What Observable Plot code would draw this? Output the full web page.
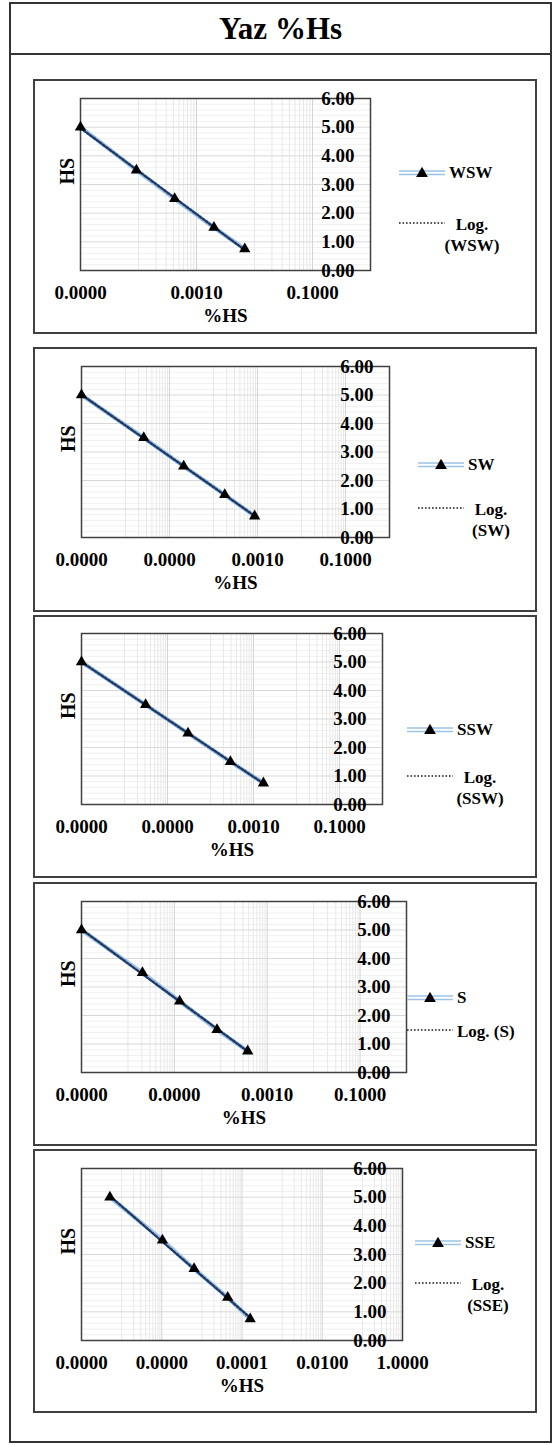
<!DOCTYPE html>
<html>
<head>
<meta charset="utf-8">
<script src="https://cdn.jsdelivr.net/npm/d3@7"></script>
<script src="https://cdn.jsdelivr.net/npm/@observablehq/plot@0.6"></script>
<style>
  body { margin:0; background:#fff; width:556px; height:1445px; position:relative; overflow:hidden;
         font-family:"Liberation Serif","Times New Roman",serif; font-weight:bold; color:#000; }
  #outer { position:absolute; left:9px; top:2px; width:543px; height:1441px; border:2px solid #333; box-sizing:border-box; }
  #title { position:absolute; left:9px; top:2px; width:543px; height:53px; border-bottom:2px solid #333; box-sizing:border-box;
           text-align:center; font-size:31px; line-height:54px; }
  .panel { position:absolute; left:33px; width:504px; border:2px solid #404040; box-sizing:border-box; }
  .chart { position:absolute; left:33px; }
  .chart text { font-family:"Liberation Serif","Times New Roman",serif !important; font-weight:bold; }
  .leg { position:absolute; font-size:17px; line-height:21px; }
  .leg svg { position:absolute; }
  .leg .t { position:absolute; white-space:nowrap; font-family:"Liberation Serif","Times New Roman",serif; }
</style>
</head>
<body>
<div id="outer"></div>
<div id="title">Yaz %Hs</div>
<script>
// ---- data ----
const seriesNames = ["WSW", "SW", "SSW", "S", "SSE"];
const trendNames = ["Log. (WSW)", "Log. (SW)", "Log. (SSW)", "Log. (S)", "Log. (SSE)"];
const HS = [5.0, 3.5, 2.5, 1.5, 0.75];
const pctWSW = [1.0e-5, 9.2e-5, 4.2e-4, 2.0e-3, 6.8e-3];
const pctSW  = [1.0e-7, 2.6e-6, 2.1e-5, 1.8e-4, 8.6e-4];
const pctSSW = [1.0e-7, 3.1e-6, 3.0e-5, 2.9e-4, 1.7e-3];
const pctS   = [1.0e-7, 2.05e-6, 1.3e-5, 8.3e-5, 3.8e-4];
const pctSSE = [5.1e-8, 1.04e-6, 6.4e-6, 4.4e-5, 1.6e-4];
const ticksWSW = [1e-5, 1e-3, 1e-1];
const ticksSW  = [1e-7, 1e-5, 1e-3, 1e-1];
const ticksSSW = [1e-7, 1e-5, 1e-3, 1e-1];
const ticksS   = [1e-7, 1e-5, 1e-3, 1e-1];
const ticksSSE = [1e-8, 1e-6, 1e-4, 1e-2, 1];
const yTicks = [0, 1, 2, 3, 4, 5, 6];
const xMax = 1;

// ---- layout ----
const panels = [
  {pct: pctWSW, ticks: ticksWSW, top: 79,   h: 255, plot: {l: 80, r: 370, t: 98,   b: 270},  leg: {x: 399, r1: 94,  r2: 146, two: true}},
  {pct: pctSW,  ticks: ticksSW,  top: 347,  h: 265, plot: {l: 81, r: 389, t: 366,  b: 537},  leg: {x: 418, r1: 118, r2: 163, two: true}},
  {pct: pctSSW, ticks: ticksSSW, top: 615,  h: 263, plot: {l: 81, r: 382, t: 633,  b: 804},  leg: {x: 407, r1: 115, r2: 163, two: true}},
  {pct: pctS,   ticks: ticksS,   top: 882,  h: 264, plot: {l: 81, r: 406, t: 901,  b: 1072}, leg: {x: 407, r1: 116, r2: 150, two: false}},
  {pct: pctSSE, ticks: ticksSSE, top: 1149, h: 264, plot: {l: 81, r: 402, t: 1168, b: 1340}, leg: {x: 415, r1: 94,  r2: 136, two: true}}
];
const SVGW = 400;
const FONT = "'Liberation Serif', 'Times New Roman', serif";

panels.forEach((p, i) => {
  const box = document.createElement("div");
  box.className = "panel";
  box.style.top = p.top + "px";
  box.style.height = p.h + "px";
  document.body.appendChild(box);

  const data = p.pct.map((x, j) => ({x, y: HS[j]}));
  // logarithmic trendline (least squares on log x)
  const lx = data.map(d => Math.log10(d.x)), ly = data.map(d => d.y);
  const mx = d3.mean(lx), my = d3.mean(ly);
  const a = d3.sum(lx.map((v, k) => (v - mx) * (ly[k] - my))) / d3.sum(lx.map(v => (v - mx) ** 2));
  const b = my - a * mx;
  const xe = d3.extent(p.pct);
  const trend = xe.map(x => ({x, y: a * Math.log10(x) + b}));

  const xMin = p.ticks[0];
  const a0 = Math.round(Math.log10(xMin));
  const minorX = [];
  for (let e = a0; e < 0; e += 2)
    for (let k = 1; k <= 9; k++) { const v = k * Math.pow(10, e + 1); if (v < xMax * 0.999) minorX.push(v); }
  const majorX = p.ticks.filter(v => v > xMin * 1.001 && v < xMax * 0.999);
  const minorY = d3.range(0.2, 6, 0.2).filter(v => Math.abs(v - Math.round(v)) > 0.01);
  const majorY = [1, 2, 3, 4, 5];

  const chart = Plot.plot({
    width: SVGW, height: p.h,
    marginLeft: p.plot.l - 33, marginRight: 33 + SVGW - p.plot.r,
    marginTop: p.plot.t - p.top, marginBottom: p.top + p.h - p.plot.b,
    x: {type: "log", domain: [xMin, xMax], axis: null},
    y: {domain: [0, 6], axis: null},
    style: {fontFamily: FONT, fontWeight: "bold", fontSize: "19px", color: "#000", background: "transparent", overflow: "visible"},
    marks: [
      Plot.ruleY(minorY, {stroke: "#f0f0f0", strokeWidth: 1}),
      Plot.ruleX(minorX, {stroke: "#e8e8e8", strokeWidth: 1}),
      Plot.ruleY(majorY, {stroke: "#d9d9d9", strokeWidth: 1}),
      Plot.ruleX(majorX, {stroke: "#d4d4d4", strokeWidth: 1}),
      Plot.frame({stroke: "#404040", strokeWidth: 1.5}),
      Plot.line(data, {x: "x", y: "y", stroke: "#9dc3e6", strokeWidth: 4.2}),
      Plot.line(data, {x: "x", y: "y", stroke: "#ffffff", strokeWidth: 1}),
      Plot.line(trend, {x: "x", y: "y", stroke: "#1f3864", strokeWidth: 2.4, strokeDasharray: "2,2"}),
      Plot.dot(data, {x: "x", y: "y", symbol: "triangle", r: 4.2, fill: "#000", stroke: "none"}),
      Plot.text(yTicks, {y: d => d, text: d => d.toFixed(2), frameAnchor: "right", dx: -16, textAnchor: "end", fontSize: 19, fill: "#000"}),
      Plot.axisX({ticks: p.ticks, tickFormat: d => d.toFixed(4), tickSize: 0, tickPadding: 15, label: null, fontSize: 19, fill: "#000"}),
      Plot.text(["%HS"], {frameAnchor: "bottom", dy: 51, text: d => d, fontSize: 19, fill: "#000"}),
      Plot.text(["HS"], {frameAnchor: "left", dx: -13, text: d => d, rotate: -90, fontSize: 20, fill: "#000"})
    ]
  });
  chart.classList.add("chart");
  chart.style.top = p.top + "px";
  document.body.appendChild(chart);

  // legend
  const L = p.leg;
  const leg = document.createElement("div");
  leg.className = "leg";
  leg.style.left = "0px"; leg.style.top = "0px";
  document.body.appendChild(leg);
  const y1 = p.top + L.r1, y2 = p.top + L.r2;
  leg.innerHTML =
    `<svg width="46" height="16" style="left:${L.x}px;top:${y1 - 8}px">
       <line x1="0" x2="46" y1="6" y2="6" stroke="#9dc3e6" stroke-width="1.6"/>
       <line x1="0" x2="46" y1="9.5" y2="9.5" stroke="#9dc3e6" stroke-width="1.6"/>
       <path d="${d3.symbol(d3.symbolTriangle, 60)()}" transform="translate(23,8.5)" fill="#000"/>
     </svg>
     <div class="t" style="left:${L.x + 50}px;top:${y1 - 11}px">${seriesNames[i]}</div>
     <svg width="46" height="6" style="left:${L.x}px;top:${y2 - 5}px">
       <line x1="0" x2="46" y1="3" y2="3" stroke="#1a1a1a" stroke-width="1.6" stroke-dasharray="1.6,1.9"/>
     </svg>` +
    (L.two
      ? `<div class="t" style="left:${L.x + 73 - 40}px;width:80px;text-align:center;top:${y2 - 11}px">${trendNames[i].replace(" ", "<br>")}</div>`
      : `<div class="t" style="left:${L.x + 50}px;top:${y2 - 11}px">${trendNames[i]}</div>`);
});
</script>
</body>
</html>
